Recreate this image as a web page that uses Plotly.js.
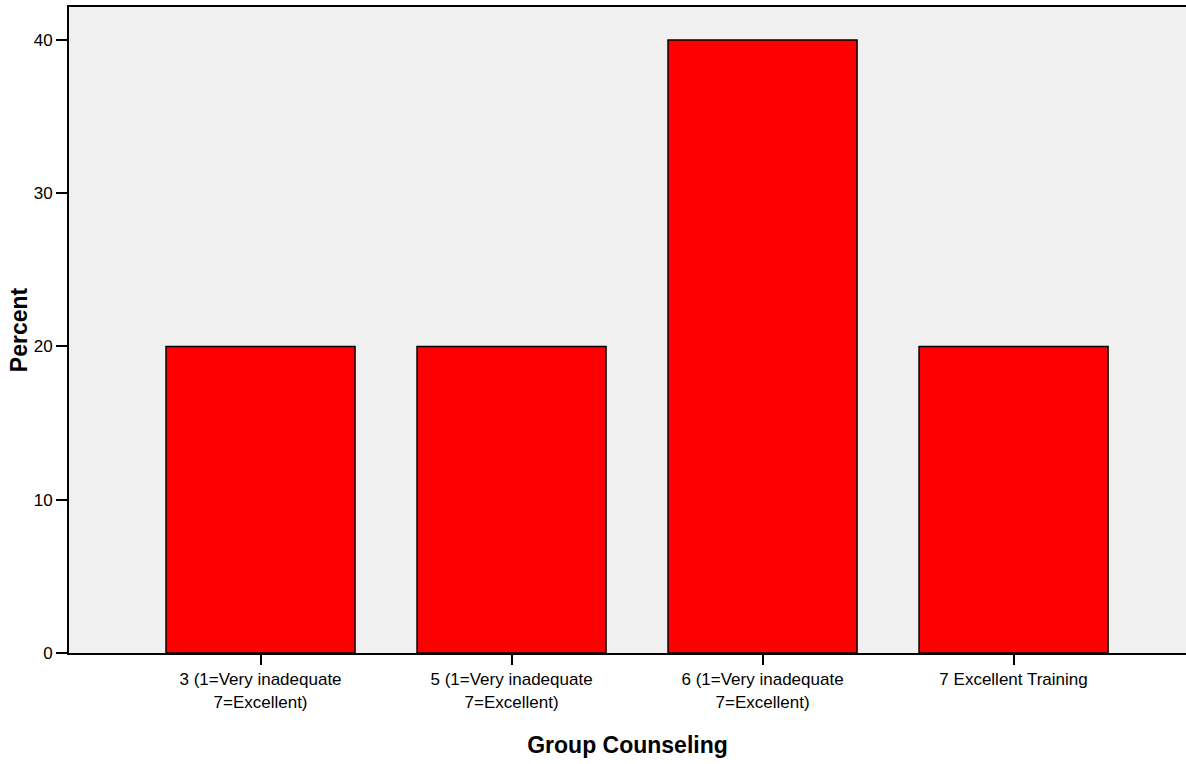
<!DOCTYPE html>
<html>
<head>
<meta charset="utf-8">
<script src="https://cdn.plot.ly/plotly-3.0.1.min.js"></script>
<style>html,body{margin:0;padding:0;background:#fff;}#chart{width:1186px;height:764px;}</style>
</head>
<body>
<div id="chart"></div>
<script>
var categories = [
  "3 (1=Very inadequate<br>7=Excellent)",
  "5 (1=Very inadequate<br>7=Excellent)",
  "6 (1=Very inadequate<br>7=Excellent)",
  "7 Excellent Training"
];
var percents = [20, 20, 40, 20];
var yTicks = [0, 10, 20, 30, 40];

var font = "Liberation Sans Narrow, Arial Narrow, Liberation Sans, Arial, sans-serif";

var trace = {
  type: "bar",
  x: categories,
  y: percents,
  marker: {color: "#FF0000", line: {color: "#000000", width: 1.5}},
  hoverinfo: "x+y"
};

var layout = {
  width: 1186,
  height: 764,
  margin: {l: 69, r: 0, t: 7, b: 111},
  paper_bgcolor: "#FFFFFF",
  plot_bgcolor: "#F0F0F0",
  bargap: 0.247,
  showlegend: false,
  font: {family: font, color: "#000"},
  xaxis: {
    type: "category",
    range: [-0.763, 3.687],
    showgrid: false,
    zeroline: false,
    showline: true,
    linecolor: "#000",
    linewidth: 2,
    mirror: true,
    ticks: "outside",
    ticklen: 10,
    tickwidth: 2,
    tickcolor: "#000",
    tickfont: {family: font, size: 17, color: "#000"},
    title: {text: "<b>Group Counseling</b>", font: {family: font, size: 23, color: "#000"}, standoff: 26}
  },
  yaxis: {
    range: [0, 42.15],
    tickvals: yTicks,
    showgrid: false,
    zeroline: false,
    showline: true,
    linecolor: "#000",
    linewidth: 2,
    ticks: "outside",
    ticklen: 11,
    tickwidth: 2,
    tickcolor: "#000",
    tickfont: {family: font, size: 17, color: "#000"},
    title: {text: "<b>Percent</b>", font: {family: font, size: 23, color: "#000"}, standoff: 0}
  }
};

Plotly.newPlot("chart", [trace], layout, {displayModeBar: false, staticPlot: true});
</script>
</body>
</html>
